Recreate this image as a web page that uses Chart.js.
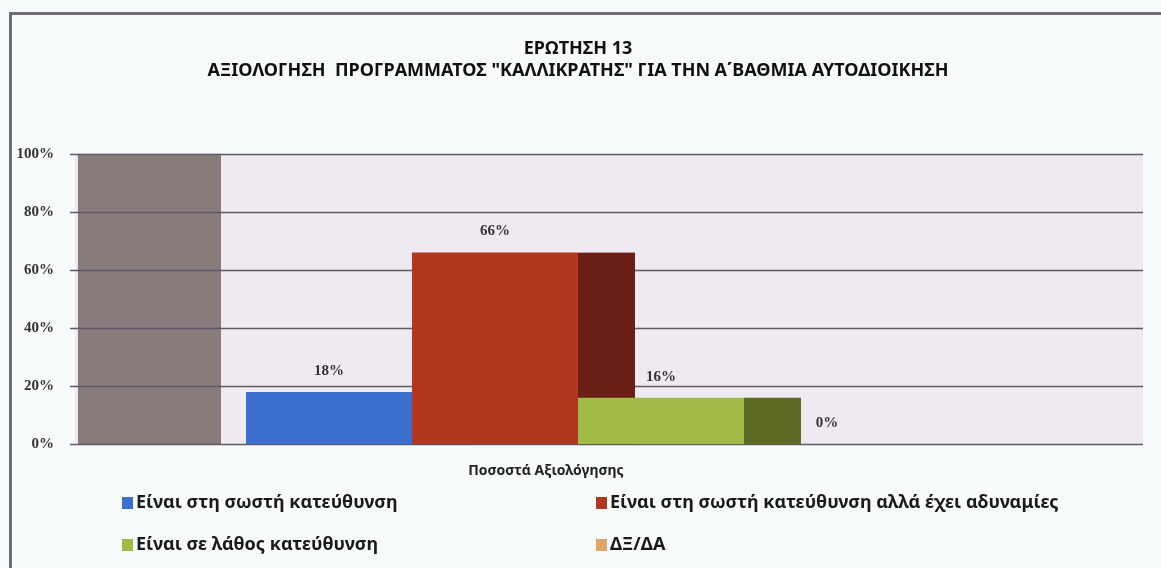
<!DOCTYPE html>
<html>
<head>
<meta charset="utf-8">
<script src="https://cdn.jsdelivr.net/npm/chart.js@4.4.0/dist/chart.umd.min.js"></script>
<style>
html, body { margin: 0; padding: 0; background: #f8fbfc; }
canvas { display: block; }
</style>
</head>
<body>
<canvas id="evalChart" width="1161" height="568"></canvas>
<script>
const categories = ['Ποσοστά Αξιολόγησης'];
const seriesNames = [
	'Είναι στη σωστή κατεύθυνση',
	'Είναι στη σωστή κατεύθυνση αλλά έχει αδυναμίες',
	'Είναι σε λάθος κατεύθυνση',
	'ΔΞ/ΔΑ'
];
const seriesValues = [18, 66, 16, 0];
const yTicks = [0, 20, 40, 60, 80, 100];
const frontColors = ['#3b6fd0', '#b3361e', '#a0ba45', '#dca66a'];
const sideColors = ['#24499a', '#6b1e13', '#5d6b25', '#9c6d3c'];

// 3d look: back wall, grid, bar sides
const backdrop = {
	id: 'backdrop',
	beforeDraw(chart) {
		const ctx = chart.ctx;
		ctx.save();
		ctx.fillStyle = '#6f6a73';
		ctx.fillRect(9, 12, 1152, 3);
		ctx.fillRect(9, 12, 3, 556);
		ctx.restore();
	},
	beforeDatasetsDraw(chart) {
		const ctx = chart.ctx;
		const area = chart.chartArea;
		const y = chart.scales.y;
		const top = y.getPixelForValue(100);
		const bottom = y.getPixelForValue(0);
		ctx.save();
		ctx.fillStyle = '#efe9f1';
		ctx.fillRect(area.left, top, 1143 - area.left, bottom - top);
		ctx.fillStyle = '#887b7b';
		ctx.fillRect(area.left + 3, top, 143, bottom - top);
		ctx.strokeStyle = '#5d5a63';
		ctx.lineWidth = 1.6;
		yTicks.forEach(v => {
			const py = Math.round(y.getPixelForValue(v)) + 0.5;
			ctx.beginPath();
			ctx.moveTo(area.left - 5, py);
			ctx.lineTo(1143, py);
			ctx.stroke();
		});
		chart.data.datasets.forEach((ds, i) => {
			const bar = chart.getDatasetMeta(i).data[0];
			if (!bar) return;
			const right = bar.x + bar.width / 2;
			ctx.fillStyle = sideColors[i];
			ctx.fillRect(right, bar.y, 57, bar.base - bar.y);
		});
		ctx.restore();
	},
	afterDatasetsDraw(chart) {
		const ctx = chart.ctx;
		ctx.save();
		ctx.font = 'bold 15px "Liberation Serif"';
		ctx.fillStyle = '#333';
		ctx.textAlign = 'center';
		ctx.textBaseline = 'middle';
		chart.data.datasets.forEach((ds, i) => {
			const bar = chart.getDatasetMeta(i).data[0];
			ctx.fillText(ds.data[0] + '%', bar.x, bar.y - 21);
		});
		ctx.restore();
	},
	afterDraw(chart) {
		const ctx = chart.ctx;
		const cols = [122, 596];
		const rows = [503, 545];
		ctx.save();
		ctx.font = 'bold 18px "Noto Sans"';
		ctx.textBaseline = 'middle';
		chart.data.datasets.forEach((ds, i) => {
			const x = cols[i % 2];
			const y = rows[Math.floor(i / 2)];
			ctx.fillStyle = ds.backgroundColor;
			ctx.fillRect(x, y - 6, 11, 12);
			ctx.fillStyle = '#1a1a1a';
			ctx.fillText(ds.label, x + 14, y);
		});
		ctx.restore();
	}
};

new Chart(document.getElementById('evalChart'), {
	type: 'bar',
	data: {
		labels: categories,
		datasets: seriesNames.map((name, i) => ({
			label: name,
			data: [seriesValues[i]],
			backgroundColor: frontColors[i],
			categoryPercentage: 0.66,
			barPercentage: 1.0
		}))
	},
	options: {
		responsive: false,
		animation: false,
		layout: {
			padding: { left: 14, right: 80, top: 0, bottom: 79 }
		},
		plugins: {
			legend: { display: false },
			tooltip: { enabled: false },
			title: {
				display: true,
				fullSize: false,
				text: ['ΕΡΩΤΗΣΗ 13', 'ΑΞΙΟΛΟΓΗΣΗ  ΠΡΟΓΡΑΜΜΑΤΟΣ "ΚΑΛΛΙΚΡΑΤΗΣ" ΓΙΑ ΤΗΝ Α΄ΒΑΘΜΙΑ ΑΥΤΟΔΙΟΙΚΗΣΗ'],
				color: '#111',
				font: { family: 'Noto Sans', size: 18, weight: 'bold', lineHeight: 1.22 },
				padding: { top: 38, bottom: 72 }
			}
		},
		scales: {
			x: {
				grid: { display: false },
				border: { display: false },
				ticks: {
					color: '#222',
					font: { family: 'Noto Sans', size: 14, weight: 'bold' },
					padding: 10,
					labelOffset: -32
				}
			},
			y: {
				min: 0,
				max: 100,
				grid: { display: false },
				border: { display: false },
				afterBuildTicks: s => { s.ticks = yTicks.map(v => ({ value: v })); },
				afterFit: s => { s.width = 61; },
				ticks: {
					color: '#333',
					padding: 13,
					font: { family: 'Liberation Serif', size: 15, weight: 'bold' },
					callback: v => v + '%'
				}
			}
		}
	},
	plugins: [backdrop]
});
</script>
</body>
</html>
